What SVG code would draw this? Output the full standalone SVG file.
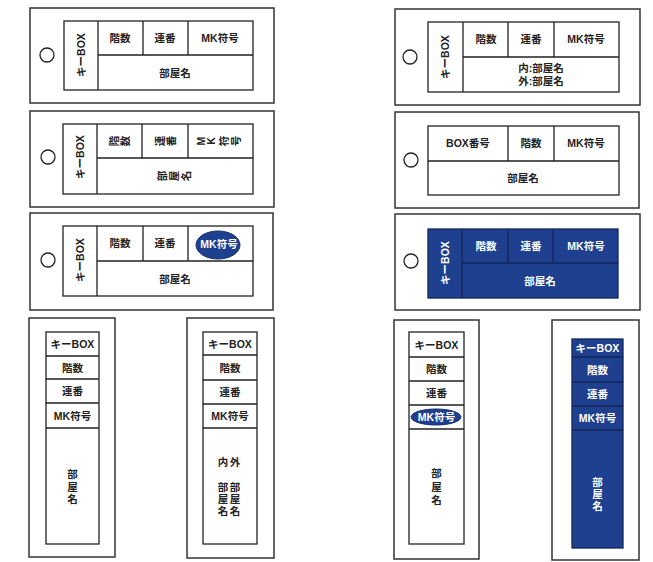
<svg xmlns="http://www.w3.org/2000/svg" width="653" height="562" viewBox="0 0 653 562">
<style>
.card{fill:#fff;stroke:#333;stroke-width:1.5}
.tbl{fill:#fff;stroke:#222;stroke-width:1.3}
.btbl{fill:#1f3f8f;stroke:#13265a;stroke-width:1.3}
.ln{stroke:#222;stroke-width:1.3;fill:none}
.bln{stroke:#13265a;stroke-width:1.3;fill:none}
.hole{fill:#fff;stroke:#222;stroke-width:1.3}
.ell{fill:#1f3f8f;stroke:#16306e;stroke-width:1}
.t{font-family:"Liberation Sans","Noto Sans CJK JP",sans-serif;font-weight:bold;font-size:10.5px;text-anchor:middle;dominant-baseline:central;fill:#222}
.w{fill:#fff}
</style>
<rect width="653" height="562" fill="#fff"/>

<g id="card-l1">
<rect class="card" x="30" y="8" width="244" height="95"/>
<circle class="hole" cx="47" cy="55" r="7"/>
<rect class="tbl" x="64" y="21" width="189" height="69"/>
<path class="ln" d="M98 21V90M98 55H253M143 21V55M188 21V55"/>
<text class="t" transform="translate(81 55) rotate(-90)">キーBOX</text>
<text class="t" x="120" y="38">階数</text>
<text class="t" x="165" y="38">連番</text>
<text class="t" x="220" y="38">MK符号</text>
<text class="t" x="175" y="73">部屋名</text>
</g>

<g id="card-l2">
<rect class="card" x="30" y="111" width="244" height="96"/>
<circle class="hole" cx="48" cy="157" r="7"/>
<rect class="tbl" x="63" y="124" width="190" height="70"/>
<path class="ln" d="M97 124V194M97 158H253M142 124V158M188 124V158"/>
<text class="t" transform="translate(80 157) rotate(-90)">キーBOX</text>
<text class="t" transform="translate(114 141) rotate(-90)">階</text>
<text class="t" transform="translate(125 141) rotate(-90)">数</text>
<text class="t" transform="translate(160 141) rotate(-90)">連</text>
<text class="t" transform="translate(171 141) rotate(-90)">番</text>
<text class="t" transform="translate(201 141) rotate(-90)">M</text>
<text class="t" transform="translate(211 141) rotate(-90)">K</text>
<text class="t" transform="translate(224 141) rotate(-90)">符</text>
<text class="t" transform="translate(236 141) rotate(-90)">号</text>
<text class="t" transform="translate(162 176) rotate(-90)">部</text>
<text class="t" transform="translate(174 176) rotate(-90)">屋</text>
<text class="t" transform="translate(186 176) rotate(-90)">名</text>
</g>

<g id="card-l3">
<rect class="card" x="30" y="213" width="243" height="97"/>
<circle class="hole" cx="48" cy="260" r="7"/>
<rect class="tbl" x="63" y="226" width="190" height="70"/>
<path class="ln" d="M97 226V296M97 261H253M143 226V261M188 226V261"/>
<ellipse class="ell" cx="218" cy="245" rx="22" ry="14"/>
<text class="t" transform="translate(80 260) rotate(-90)">キーBOX</text>
<text class="t" x="120" y="243">階数</text>
<text class="t" x="165" y="243">連番</text>
<text class="t w" x="219" y="244">MK符号</text>
<text class="t" x="175" y="279">部屋名</text>
</g>

<g id="card-r1">
<rect class="card" x="395" y="9" width="245" height="96"/>
<circle class="hole" cx="410" cy="57" r="7"/>
<rect class="tbl" x="428" y="22" width="191" height="70"/>
<path class="ln" d="M463 22V92M463 57H619M508 22V57M554 22V57"/>
<text class="t" transform="translate(445 57) rotate(-90)">キーBOX</text>
<text class="t" x="486" y="39">階数</text>
<text class="t" x="531" y="39">連番</text>
<text class="t" x="586" y="39">MK符号</text>
<text class="t" x="541" y="68">内:部屋名</text>
<text class="t" x="541" y="81">外:部屋名</text>
</g>

<g id="card-r2">
<rect class="card" x="395" y="112" width="244" height="96"/>
<circle class="hole" cx="411" cy="160" r="7"/>
<rect class="tbl" x="428" y="126" width="191" height="69"/>
<path class="ln" d="M428 161H619M508 126V161M554 126V161"/>
<text class="t" x="468" y="143">BOX番号</text>
<text class="t" x="531" y="143">階数</text>
<text class="t" x="586" y="143">MK符号</text>
<text class="t" x="523" y="178">部屋名</text>
</g>

<g id="card-r3">
<rect class="card" x="395" y="214" width="245" height="96"/>
<circle class="hole" cx="411" cy="261" r="7"/>
<rect class="btbl" x="428" y="229" width="190" height="69"/>
<path class="bln" d="M462 229V298M462 263H618M508 229V263M553 229V263"/>
<text class="t w" transform="translate(445 263) rotate(-90)">キーBOX</text>
<text class="t w" x="486" y="246">階数</text>
<text class="t w" x="531" y="246">連番</text>
<text class="t w" x="586" y="246">MK符号</text>
<text class="t w" x="540" y="281">部屋名</text>
</g>

<g id="tag-l1">
<rect class="card" x="29" y="318" width="86" height="239"/>
<rect class="tbl" x="46" y="332" width="53" height="212"/>
<path class="ln" d="M46 356H99M46 379H99M46 403H99M46 428H99"/>
<text class="t" x="72.5" y="344">キーBOX</text>
<text class="t" x="72.5" y="367.5">階数</text>
<text class="t" x="72.5" y="391">連番</text>
<text class="t" x="72.5" y="415.5">MK符号</text>
<text class="t" x="72.5" y="474">部</text>
<text class="t" x="72.5" y="487">屋</text>
<text class="t" x="72.5" y="499">名</text>
</g>

<g id="tag-l2">
<rect class="card" x="187" y="318" width="87" height="240"/>
<rect class="tbl" x="203" y="332" width="54" height="212"/>
<path class="ln" d="M203 355H257M203 380H257M203 404H257M203 428H257"/>
<text class="t" x="230" y="343.5">キーBOX</text>
<text class="t" x="230" y="367.5">階数</text>
<text class="t" x="230" y="392">連番</text>
<text class="t" x="230" y="416">MK符号</text>
<text class="t" x="223" y="462">内</text>
<text class="t" x="235" y="462">外</text>
<text class="t" x="223" y="487">部</text>
<text class="t" x="235" y="487">部</text>
<text class="t" x="223" y="499">屋</text>
<text class="t" x="235" y="499">屋</text>
<text class="t" x="223" y="511">名</text>
<text class="t" x="235" y="511">名</text>
</g>

<g id="tag-r1">
<rect class="card" x="394" y="320" width="85" height="239"/>
<rect class="tbl" x="409" y="332" width="55" height="212"/>
<path class="ln" d="M409 357H464M409 381H464M409 405H464M409 429H464"/>
<ellipse class="ell" cx="436" cy="417" rx="25" ry="8"/>
<text class="t" x="436.5" y="344.5">キーBOX</text>
<text class="t" x="436.5" y="369">階数</text>
<text class="t" x="436.5" y="393">連番</text>
<text class="t w" x="436.5" y="417">MK符号</text>
<text class="t" x="436.5" y="473">部</text>
<text class="t" x="436.5" y="487">屋</text>
<text class="t" x="436.5" y="500">名</text>
</g>

<g id="tag-r2">
<rect class="card" x="552" y="320" width="87" height="240"/>
<rect class="btbl" x="572" y="339" width="51" height="209"/>
<path class="bln" d="M572 357H623M572 382H623M572 406H623M572 430H623"/>
<text class="t w" x="597.5" y="348">キーBOX</text>
<text class="t w" x="597.5" y="369.5">階数</text>
<text class="t w" x="597.5" y="394">連番</text>
<text class="t w" x="597.5" y="418">MK符号</text>
<text class="t w" x="597.5" y="482">部</text>
<text class="t w" x="597.5" y="494">屋</text>
<text class="t w" x="597.5" y="506">名</text>
</g>
</svg>
